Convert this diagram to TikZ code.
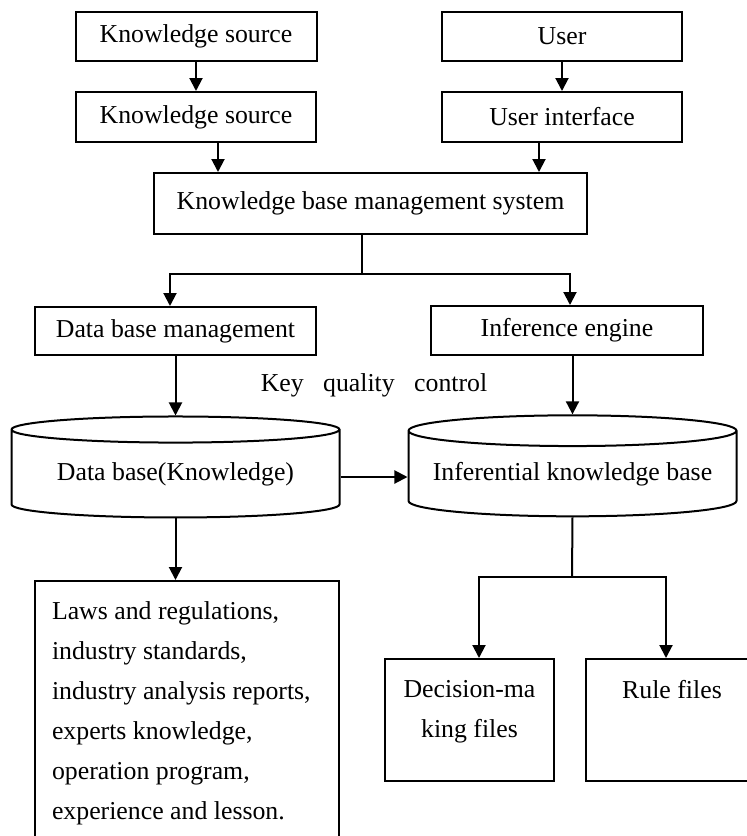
\documentclass[tikz,border=0pt]{standalone}
\usepackage{fontspec}
\setmainfont{Liberation Serif}
\usepackage{tikz}
\usetikzlibrary{arrows.meta,shapes.geometric,positioning}

\begin{document}
\begin{tikzpicture}[
    x=0.5pt, y=-0.5pt,
    font=\fontsize{12.9}{20}\selectfont,
    line width=1pt,
    box/.style={rectangle, draw, inner sep=0pt, align=center},
    dbcyl/.style={cylinder, shape border rotate=90, draw, aspect=0.11, inner sep=0pt,
      minimum width=164pt, minimum height=50.5pt},
    filebox/.style={rectangle, draw, anchor=north, inner xsep=0pt, inner ysep=10.5pt},
    arr/.style={-{Triangle[length=6.5pt,width=6.5pt]}}
  ]
  \useasboundingbox (0,0) rectangle (747,836);

  % sources and user side
  \node[box, minimum width=120.5pt, minimum height=24.5pt] (ks1) at (196,36.5) {Knowledge source};
  \node[box, minimum width=120pt, minimum height=25pt] (ks2) at (196,117) {Knowledge source};
  \node[box, minimum width=120pt, minimum height=24.5pt] (user) at (562,36.5) {User};
  \node[box, minimum width=120pt, minimum height=25pt] (ui) at (562,117) {User interface};
  \node[box, minimum width=216.5pt, minimum height=30.5pt] (kbms) at (370.5,203.5) {Knowledge base management system};

  % management layer
  \node[box, minimum width=140.5pt, minimum height=24pt] (dbm) at (175.5,331) {Data base management};
  \node[box, minimum width=136pt, minimum height=24.5pt] (ie) at (567,330.5) {Inference engine};
  \node (kqc) at (374,385) {Key\hspace{0.75em}quality\hspace{0.75em}control};

  % knowledge bases
  \node[dbcyl] (db) at (175.5,474) {Data base(Knowledge)};
  \node[dbcyl] (ikb) at (572.5,474) {Inferential knowledge base};

  % files
  \node[filebox, inner xsep=8.5pt] (laws) at (187,580) {\parbox[t][150pt][t]{135pt}{%
    Laws and regulations,\\
    industry standards,\\
    industry analysis reports,\\
    experts knowledge,\\
    operation program,\\
    experience and lesson.}};
  \node[filebox] (dec) at (469.5,658) {\parbox[t][40pt][t]{84.5pt}{\centering Decision-ma\\king files}};
  \node[filebox] (rule) at (672,658) {\parbox[t][40pt][t]{86pt}{\centering Rule files}};

  \coordinate (fork) at (362,274);
  \coordinate (split) at (572,577);

  \draw[arr] (ks1) -- (ks2);
  \draw[arr] (user) -- (ui);
  \draw[arr] ([xshift=11pt]ks2.south) -- ([xshift=11pt]ks2.south |- kbms.north);
  \draw[arr] ([xshift=-11.5pt]ui.south) -- ([xshift=-11.5pt]ui.south |- kbms.north);
  \draw (kbms.south -| fork) -- (fork);
  \draw[arr] (fork) -| ([xshift=-2.75pt]dbm.north);
  \draw[arr] (fork) -| ([xshift=1.5pt]ie.north);
  \draw[arr] (dbm.south -| db.north) -- (db.north);
  \draw[arr] (ie.south -| ikb.north) -- (ikb.north);
  \draw[arr] ([yshift=-1.5pt]db.east) -- ([yshift=-1.5pt]db.east -| ikb.west);
  \draw[arr] (db.south) -- (db.south |- laws.north);
  \draw (ikb.south) -- (split);
  \draw[arr] (split) -| ([xshift=4.75pt]dec.north);
  \draw[arr] (split) -| ([xshift=-3pt]rule.north);
\end{tikzpicture}
\end{document}
